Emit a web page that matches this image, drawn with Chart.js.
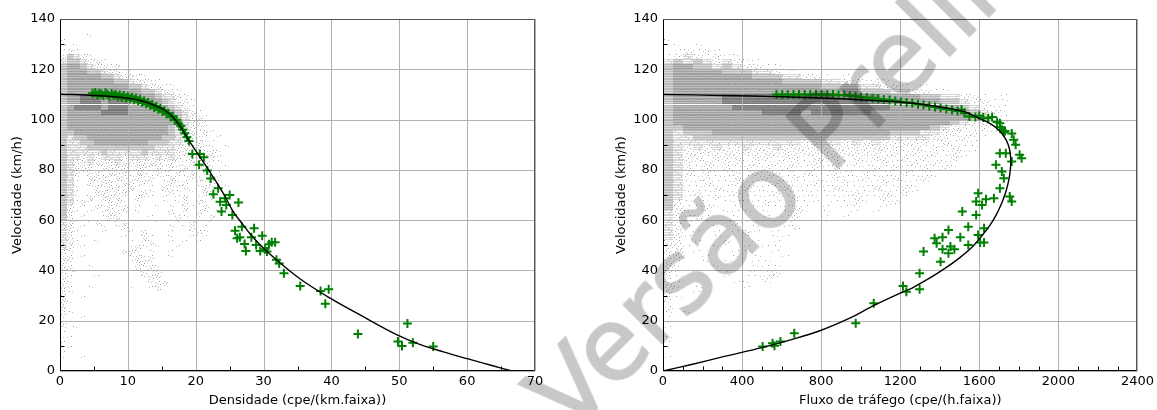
<!DOCTYPE html>
<html>
<head>
<meta charset="utf-8">
<script src="https://cdn.jsdelivr.net/npm/chart.js@4.4.1/dist/chart.umd.min.js"></script>
<style>
html,body{margin:0;padding:0;background:#fff;}
#wrap{position:relative;width:1157px;height:410px;overflow:hidden;background:#fff;isolation:isolate;}
#cL{position:absolute;left:0;top:0;}
#cR{position:absolute;left:580px;top:0;}
#wm{position:absolute;left:570px;top:352px;font-family:'DejaVu Sans',sans-serif;font-weight:normal;font-size:100px;line-height:1;white-space:nowrap;color:#c8c8c8;-webkit-text-stroke:1.6px #c8c8c8;mix-blend-mode:multiply;transform-origin:0 85px;transform:rotate(-45deg);pointer-events:none;}
</style>
</head>
<body>
<div id="wrap">
<canvas id="cL" width="580" height="410"></canvas>
<canvas id="cR" width="577" height="410"></canvas>
<div id="wm">Versão Preliminar</div>
</div>
<script>
// ---------------- tick values ----------------
const densTicks  = [0,10,20,30,40,50,60,70];
const densMinor  = [5,15,25,35,45,55,65];
const flowTicks  = [0,400,800,1200,1600,2000,2400];
const flowMinor  = [100,200,300,500,600,700,900,1000,1100,1300,1400,1500,1700,1800,1900,2100,2200,2300];
const speedTicks = [0,20,40,60,80,100,120,140];
const speedMinor = [10,30,50,70,90,110,130];

// ---------------- fitted model curves ----------------
const curveDensK = [0,5,10,12.5,14.4,15.5,16.4,17.2,17.9,18.6,19.3,20.3,21.3,22.8,24.3,25.5,26.8,28,30,32,35.3,39.8,44.7,49.6,53,56.5,60,63.5,66.6];
const curveDensV = [110.1,109.6,108.5,107.1,105.1,103.6,101.6,99.2,96.6,93.5,90.4,86.4,82.4,76.2,69.5,63.5,58.8,54.6,48.8,44,36.8,29,21.6,14.5,10.6,7.6,4.9,2.3,0];

const curveFlowQ = [0,300,600,900,1150,1300,1420,1520,1600,1660,1705,1735,1752,1759,1757,1748,1733,1712,1685,1650,1610,1560,1500,1430,1350,1260,1200,1070,944,800,650,500,300,150,0];
const curveFlowV = [110,109.6,109.1,108.3,107.2,106.2,104.8,103.2,100.5,98.2,95.3,92,88.5,84.5,80,75.5,71,66.5,62,57.5,53.5,49,45,41,37,33,31,26.2,21,16.2,12.5,9.3,5.6,2.7,0];

// ---------------- observed (green) points ----------------
const obsDensK = [4.8,5.2,5.5,5.8,6.1,6.4,6.7,7,7.3,7.6,7.9,8.2,8.5,8.8,9.1,9.4,9.7,10,10.3,10.6,10.9,11.2,11.5,11.8,12.1,12.4,12.7,13,13.3,13.6,13.9,14.2,14.5,14.8,15.1,15.4,15.7,16,16.3,16.6,16.9,17.2,17.5,17.8,18.1,18.4,18.7,19,
  19.5,20.6,21.2,20.5,21.7,22.2,22.6,23.3,23.6,23.8,24.3,24.5,25,25.4,26.3,25.8,26.1,26.5,26.8,27.2,27.4,28.2,28.6,28.9,29.5,29.8,30.2,30.5,30.8,31.2,31.7,31.9,32.3,33,35.4,38.4,39.6,39.1,43.9,49.8,50.4,51.2,52,55];
const obsDensV = [110.5,110.8,109.8,110.6,110.2,109.5,110.7,110,109.3,110.4,109.7,110.1,109.2,109.8,108.9,109.6,108.6,109.2,108.3,108.9,107.9,108.5,107.5,108,106.9,107.4,106.3,106.8,105.7,106,104.8,105.2,104.1,104.4,103.2,103.5,102.2,102.5,101,101.3,99.8,99.9,98.3,97.5,96,94.6,93,91.5,
  86.3,86.3,85,82,79.7,76.6,70.3,72.7,67.3,63.4,68.7,66,70,62,67,55.8,52.8,53.2,57.4,50.5,47.7,53.2,56.8,50.1,47.7,53.8,48.4,47.5,50.4,51.2,51.2,44.2,42.8,38.9,33.8,31.8,32.5,26.7,14.7,11.7,9.9,18.9,11.2,9.7];

const obsFlowQ = [574,603,631,660,688,717,745,774,802,831,860,888,917,945,974,1002,1031,1060,1088,1117,1146,1175,1203,1232,1261,1290,1318,1347,1376,1404,1433,1462,1490,1510,1525,1550,1580,1600,1620,1645,1665,1690,1704,1705,1715,1724,1730,1764,1774,1784,
  1704,1734,1804,1814,1764,1684,1714,1724,1704,1594,1584,1614,1634,1674,1754,1764,1584,1514,1544,1624,1444,1374,1414,1384,1454,1504,1544,1594,1604,1624,1414,1444,1474,1404,1318,1298,1214,1231,1298,1066,975,664,594,554,504,564];
const obsFlowV = [110,110,110,110,110,110,110,110,110,110,110,109.8,109.8,109.5,109.3,109,108.8,108.5,108.3,108,107.8,107.4,107.1,106.8,106.5,106.1,105.8,105.4,105,104.6,104.2,103.8,103.4,104,102.5,101.2,101,101.5,100.8,100.5,101,99,98.5,97,96,95,95.5,94.5,92,90,
  86.6,86.6,86,84.6,83.3,82,79.3,76.7,72.7,70.7,67.4,66,68.3,68.7,69.4,67.4,62,63.4,57.4,56.8,56.1,52.8,53.2,50.8,49.5,53.2,50.1,54.1,51.1,51.1,48.4,46.8,48.4,43.5,47.5,38.9,33.8,31.5,32.5,26.9,19,15,11.7,11,9.7,10];

// ---------------- raw-measurement clouds (density grid read off the picture) ----------------
// each row: speed bin centre (2 km/h bins); each character: one bin along x
// ' ' none, '.' very sparse, ':' sparse, '-' light, 'o' light-medium, 'O' medium, '#' dense
const cloudDensBin = 1;      // cpe/(km.faixa) per column
const cloudDensSpeeds = [133,131,129,127,125,123,121,119,117,115,113,111,109,107,105,103,101,99,97,95,93,91,89,87,85,83,81,79,77,75,73,71,69,67,65,63,61,59,57,55,53,51,49,47,45,43,41,39,37,35,33,31,29,27,25,23,21,19,17,15,13,11,9,7,5];
const cloudDensRows = [
  "    .",
  ".",
  ". .",
  ".:.",
  ":o-:.",
  "-oo-::.",
  "oOOo-::.:",
  "oOOOoo-::..",
  "oOOOOOoo-::..",
  "oOOOOOOOoo-::..",
  "oOOOOOOOOOoo-::..",
  "oOOOOOOOOOOOoo-::.",
  "oOO###OOOOOOOOo--:.",
  "oOO###O###OOOOOo-::.",
  "oO####O###OOOOOOo-:.",
  "oOOOOO####OOOOOOOo-:.",
  "oOOOOOOOOOOOOOOOOo-::.",
  "oOOOOOOOOOOOOOOOOo-::.",
  "oOOOOOOOOOOOOOOOo--:..",
  "ooOOOOOOOOOOOOOOo-::.:.",
  "o-ooOOOOOOOOOOOoo-::.. .",
  "o--ooOOOOOOOOooo--:.:..",
  "o---oooooooooo---::.:.. .",
  "o-----o-----o----::.:.:.",
  "o--:-:---:---:-:-:.:..:.",
  "o-::-:::-::::::.:..:.:..",
  "o-:::.::::.::.:.:.:..:. .",
  "o-:.::.:::.::.:..:.:.:..",
  "o-. :::.::.:.:..:..:. :.",
  "o-. :.::.::.:. .:.: ..:.",
  "o-. .:.::.:. . :..: .:. .",
  "o-.  ::.::. :. .:. . :.",
  "o-. :.:::. :.. . .: ..:",
  "o-.:. .::. .   . .: :. ",
  "o: . :.:.: .  . . :. :",
  "o:. . .::. .    : . :. .",
  "o: .  .::    .   :. . :",
  "-:. .:  .:    .  . :. .",
  "-: .  . .:      . .: . ",
  "-:.   .   . :   .  .:.",
  "-: .     .  :.  .  . .",
  "-:.  .    . .:  . . .",
  "-: .      .:. .  .  ",
  ":.       ::. .  .",
  ":: .      .:.:  .",
  ":.        .::.  ",
  "::  .      :.:. ",
  ":..         :.:  ",
  ":.   .      .::  ",
  ":.           .:: ",
  ":.  .     .  .:  ",
  ":. ",
  ":  .",
  ":.",
  ":  ",
  ":.",
  ".  .",
  ": ",
  ". .",
  ". ",
  "..",
  ". ",
  " .",
  ". ",
  ".  ."
];

const cloudFlowBin = 50;     // cpe/(h.faixa) per column
const cloudFlowSpeeds = [131,129,127,125,123,121,119,117,115,113,111,109,107,105,103,101,99,97,95,93,91,89,87,85,83,81,79,77,75,73,71,69,67,65,63,61,59,57,55,53,51,49,47,45,43,41,39,37,35,33,31,29,27,25,23,21,19,17,13,11,9,5];
const cloudFlowRows = [
  ".",
  " . .",
  " .:.:.",
  ".:-:.:..",
  "-o-o-:-:..",
  "oOOoo-o-::..",
  "oOOOOOooo--:..",
  "oOOOOOOOOooo--::. .",
  "oOOOOOOOOOOOoooo--::.:.",
  "oOOOOOOOOOOOOOOOoooo--::. .",
  "oOOOOOOOOOOOOOOOOOOOooo--::..",
  "oOOOOO################OOOOoo--::. .",
  "oOOOOO#################OOOOOoo-::..",
  "oOOOOOO################OOOOOOOo-:..",
  "oOOOOOOOOO####O######OOOOOOOOOOo-:.",
  "oOOOOOOOOOOOOOOOOOOOOOOOOOOOOOOo-:.",
  "oOOOOOOOOOOOOOOOOOOOOOOOOOOOOo-::..",
  "ooOOOOOOOOOOOOOOOOOOOOOOOOOo-::.:.",
  "o-oooOOOOOOOOOOOOOOOOOOooo--::.:..",
  "o--oooooooooooooooooooo----::.:..",
  "o-------------:---:-:-:::::.:...",
  "o-:-:-::-::-::::::::::::.:.:.:..",
  "o-::::::::::::::::::::.:.:.:.:..",
  "o-::.:::.::.::.:::.:.::.:.:..:.",
  "o-:.:.::.:.:.:.:.:.:..:..:.:..",
  "o-:.:.:.:.:.:..:.:...:.:..:.:.",
  "o-:.:..:.:.:..:..:..:...:...",
  "o-..:..:..:..:...:..:..:..:.",
  "o-..:..:...:...:..:...:....",
  "o-...:..:...:....:...:..:.",
  "o-.:...:...:.......:..:.:.",
  "o-...:.......:.....:..:..",
  "o:. . ....:. ... ..:. .:",
  "o:..:. . ....:. . ..  .",
  "-:. . ... . .:. .  . .",
  "-:.:.  .  . .:  . .",
  "-:. . .:.  . .  .",
  "-:.  . . .  .:  ",
  "-: . . .:. .  ",
  "-:.  .  .  ..",
  ":: .  :  . .",
  "::.  .  . ..",
  ":: .   ..  .",
  "::  .  . .  .",
  ":.  . .  ..",
  ":.   .   ...",
  ":. .  . ...:",
  ":.    . ..:.",
  ":.     .. .",
  ":. .    .",
  ":  .",
  ":. ",
  ". ",
  ":",
  ". .",
  ".",
  ". ",
  ".",
  ".",
  ". ",
  ". ",
  "."
];

// ---------------- rendering helpers ----------------
const FONT = {family: "'DejaVu Sans', sans-serif", size: 13};
const CLOUD_LEVELS = ['.', ':', '-', 'o', 'O', '#'];
const FILL_ROWS = {'-': ['#d4d4d4', null], 'o': ['#bcbcbc', '#d6d6d6'], 'O': ['#a1a1a1', '#bcbcbc'], '#': ['#7a7a7a', '#939393']};
const DOT_SETS = [
  [[0.1,0.1],[0.55,0.3],[0.3,0.6],[0.8,0.75],[0.45,0.9]],
  [[0.7,0.05],[0.2,0.35],[0.9,0.45],[0.5,0.65],[0.05,0.85]],
  [[0.35,0.15],[0.85,0.25],[0.15,0.5],[0.6,0.55],[0.3,0.95]],
  [[0.6,0.1],[0.05,0.25],[0.4,0.4],[0.75,0.65],[0.2,0.8]]
];
const cellCache = {};
function makeCell(level, w, h, n) {
  const c = document.createElement('canvas');
  c.width = w; c.height = h;
  const g = c.getContext('2d');
  const pts = DOT_SETS[n];
  if (FILL_ROWS[level]) {
    const [c0, c1] = FILL_ROWS[level];
    for (let r = 0; r < h; r++) {
      const col = (r % 2) ? c1 : c0;
      if (col) { g.fillStyle = col; g.fillRect(0, r, w, 1); }
    }
    if (level === '-') {
      g.fillStyle = '#bdbdbd';
      g.fillRect(Math.floor(pts[1][0] * w), 1, 1, 1);
      g.fillRect(Math.floor(pts[3][0] * w), 3, 1, 1);
    } else {
      g.fillStyle = level === '#' ? '#666' : (level === 'O' ? '#8c8c8c' : '#a8a8a8');
      g.fillRect(Math.floor(pts[0][0] * w), Math.floor(pts[0][1] * h), 1, 1);
    }
  } else {
    const count = level === '.' ? 2 : 5;
    for (let d = 0; d < count; d++) {
      const p = pts[d];
      g.fillStyle = (d % 3 === 0) ? '#9e9e9e' : '#c2c2c2';
      g.fillRect(Math.floor(p[0] * w), Math.floor(p[1] * h), 1, 1);
    }
  }
  return c;
}
function cellStyle(level, stepX, stepY) {
  return (ctx) => {
    const ch = ctx.chart, xs = ch.scales && ch.scales.x, ys = ch.scales && ch.scales.y;
    if (!xs || !ys || !ctx.raw) return 'circle';
    const w = Math.max(1, Math.ceil(Math.abs(xs.getPixelForValue(stepX) - xs.getPixelForValue(0)) - 0.05));
    const h = Math.max(1, Math.ceil(Math.abs(ys.getPixelForValue(stepY) - ys.getPixelForValue(0)) - 0.05));
    const key = level + w + 'x' + h + 'n' + ctx.raw.n;
    if (!cellCache[key]) cellCache[key] = makeCell(level, w, h, ctx.raw.n);
    return cellCache[key];
  };
}
function cloudDatasets(speeds, rows, stepX) {
  return CLOUD_LEVELS.map(level => {
    const data = [];
    rows.forEach((row, j) => {
      for (let i = 0; i < row.length; i++) {
        if (row[i] === level) data.push({x: (i + 0.5) * stepX, y: speeds[j], n: (i * 3 + j * 5) % 4});
      }
    });
    return {cloud: true, order: 3, data, showLine: false, pointRadius: 1, pointHoverRadius: 1,
            pointStyle: cellStyle(level, stepX, 2)};
  });
}

function drawGrid(chart) {
  const {ctx, chartArea: a, scales: {x, y}} = chart;
  ctx.save();
  ctx.strokeStyle = '#b0b0b0';
  ctx.lineWidth = 1;
  ctx.beginPath();
  x.ticks.forEach(t => { const p = Math.round(x.getPixelForValue(t.value)) + 0.5; ctx.moveTo(p, a.top); ctx.lineTo(p, a.bottom); });
  y.ticks.forEach(t => { const p = Math.round(y.getPixelForValue(t.value)) + 0.5; ctx.moveTo(a.left, p); ctx.lineTo(a.right, p); });
  ctx.stroke();
  ctx.restore();
}
const framePlugin = {
  id: 'mplFrame',
  beforeDatasetsDraw(chart) { chart.$gridDone = false; },
  beforeDatasetDraw(chart, args) {
    const ds = chart.data.datasets[args.index];
    chart.ctx.imageSmoothingEnabled = !ds.cloud;
    if (!ds.cloud && !chart.$gridDone) { drawGrid(chart); chart.$gridDone = true; }
  },
  afterDatasetsDraw(chart, args, opts) {
    chart.ctx.imageSmoothingEnabled = true;
    if (!chart.$gridDone) { drawGrid(chart); chart.$gridDone = true; }
    const {ctx, chartArea: a, scales: {x, y}} = chart;
    const L = Math.round(a.left) + 0.5, R = Math.round(a.right) - 0.5;
    const T = Math.round(a.top) + 0.5, B = Math.round(a.bottom) - 0.5;
    ctx.save();
    ctx.lineWidth = 1;
    ctx.strokeStyle = '#000';
    ctx.beginPath();
    (opts.xMinor || []).forEach(v => { const p = Math.round(x.getPixelForValue(v)) + 0.5; ctx.moveTo(p, B); ctx.lineTo(p, B - 4); });
    (opts.yMinor || []).forEach(v => { const p = Math.round(y.getPixelForValue(v)) + 0.5; ctx.moveTo(L, p); ctx.lineTo(L + 4, p); });
    ctx.stroke();
    ctx.strokeStyle = '#555';
    ctx.beginPath();
    ctx.moveTo(L, T); ctx.lineTo(R, T); ctx.lineTo(R, B);
    ctx.stroke();
    ctx.strokeStyle = '#000';
    ctx.beginPath();
    ctx.moveTo(L, T); ctx.lineTo(L, B); ctx.lineTo(R, B);
    ctx.stroke();
    ctx.restore();
  }
};

function makeChart(id, c) {
  const datasets = [
    ...cloudDatasets(c.cloudSpeeds, c.cloudRows, c.cloudBin),
    {order: 2, showLine: false, data: c.obsX.map((v, i) => ({x: v, y: c.obsY[i]})),
     pointStyle: 'cross', pointRadius: 4.5, pointHoverRadius: 4.5, pointBorderWidth: 2,
     pointBorderColor: '#008000', borderColor: '#008000', backgroundColor: '#008000'},
    {order: 1, showLine: true, data: c.curveX.map((v, i) => ({x: v, y: c.curveY[i]})),
     pointRadius: 0, pointHoverRadius: 0, borderColor: '#000', borderWidth: 1.4, fill: false,
     tension: c.mono ? 0 : 0.35, cubicInterpolationMode: c.mono ? 'monotone' : 'default'}
  ];
  return new Chart(document.getElementById(id), {
    type: 'scatter',
    data: {datasets},
    options: {
      responsive: false, animation: false, events: [],
      layout: {padding: {top: 19, right: c.padRight, bottom: 0, left: 0}},
      plugins: {legend: {display: false}, tooltip: {enabled: false},
                mplFrame: {xMinor: c.xMinor, yMinor: speedMinor}},
      scales: {
        x: {type: 'linear', min: c.xTicks[0], max: c.xTicks[c.xTicks.length - 1],
            afterBuildTicks: s => { s.ticks = c.xTicks.map(v => ({value: v})); },
            ticks: {font: FONT, color: '#000', padding: 3, maxRotation: 0, autoSkip: false, callback: v => String(v)},
            grid: {display: false, drawTicks: false}, border: {display: false},
            title: {display: true, text: c.xTitle, font: FONT, color: '#000', padding: {top: 0, bottom: 2}},
            afterFit: s => { s.height = 39; }},
        y: {type: 'linear', min: 0, max: 140,
            afterBuildTicks: s => { s.ticks = speedTicks.map(v => ({value: v})); },
            ticks: {font: FONT, color: '#000', padding: 5, callback: v => String(v)},
            grid: {display: false, drawTicks: false}, border: {display: false},
            title: {display: true, text: 'Velocidade (km/h)', font: FONT, color: '#000', padding: {top: c.yTitlePad, bottom: 0}},
            afterFit: s => { s.width = c.yAxisWidth; }}
      }
    },
    plugins: [framePlugin]
  });
}

makeChart('cL', {
  xTicks: densTicks, xMinor: densMinor, xTitle: 'Densidade (cpe/(km.faixa))',
  yAxisWidth: 60, yTitlePad: 10, padRight: 45,
  cloudSpeeds: cloudDensSpeeds, cloudRows: cloudDensRows, cloudBin: cloudDensBin,
  obsX: obsDensK, obsY: obsDensV, curveX: curveDensK, curveY: curveDensV, mono: true
});
makeChart('cR', {
  xTicks: flowTicks, xMinor: flowMinor, xTitle: 'Fluxo de tráfego (cpe/(h.faixa))',
  yAxisWidth: 83, yTitlePad: 34, padRight: 19,
  cloudSpeeds: cloudFlowSpeeds, cloudRows: cloudFlowRows, cloudBin: cloudFlowBin,
  obsX: obsFlowQ, obsY: obsFlowV, curveX: curveFlowQ, curveY: curveFlowV, mono: false
});
</script>
</body>
</html>
